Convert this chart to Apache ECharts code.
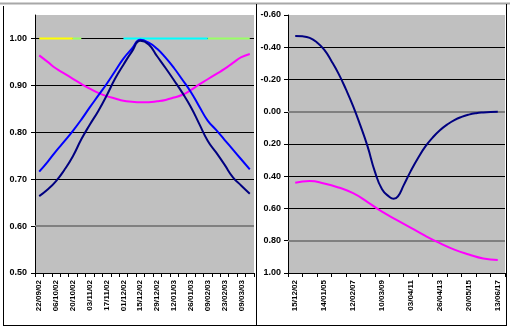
<!DOCTYPE html>
<html>
<head>
<meta charset="utf-8">
<script src="https://cdn.jsdelivr.net/npm/echarts@6/dist/echarts.min.js"></script>
<style>
html,body{margin:0;padding:0;background:#fff;}
#c{width:510px;height:330px;}
</style>
</head>
<body>
<div id="c"></div>
<script>
// ---- Left panel: weekly values, Sept 2002 - March 2003 ----
const weeks = ['22/09/02','29/09/02','06/10/02','13/10/02','20/10/02','27/10/02','03/11/02','10/11/02',
  '17/11/02','24/11/02','01/12/02','08/12/02','15/12/02','22/12/02','29/12/02','05/01/03','12/01/03',
  '19/01/03','26/01/03','02/02/03','09/02/03','16/02/03','23/02/03','02/03/03','09/03/03','16/03/03'];

const navyLeft = [0.664,0.678,0.696,0.720,0.749,0.785,0.816,0.845,0.878,0.914,0.944,0.972,0.995,
  0.987,0.962,0.937,0.911,0.884,0.854,0.818,0.782,0.757,0.731,0.704,0.686,0.669];
const blueLeft = [0.716,0.737,0.760,0.781,0.803,0.827,0.853,0.878,0.903,0.930,0.957,0.978,0.997,
  0.991,0.978,0.959,0.937,0.912,0.886,0.855,0.825,0.805,0.784,0.763,0.742,0.721];
const magentaLeft = [0.964,0.950,0.936,0.925,0.914,0.903,0.893,0.884,0.877,0.872,0.867,0.865,0.864,
  0.864,0.866,0.869,0.874,0.880,0.890,0.902,0.913,0.924,0.935,0.948,0.960,0.967];
const yellowLeft = [1,1,1,1,1,null,null,null,null,null,null,null,null,null,null,null,null,null,null,null,null,null,null,null,null,null];
const limeLeft   = [null,null,null,null,1,1,null,null,null,null,null,null,null,null,null,null,null,null,null,null,1,1,1,1,1,1];
const cyanLeft   = [null,null,null,null,null,null,null,null,null,null,1,1,1,1,1,1,1,1,1,1,1,null,null,null,null,null];

const yTicksLeft = [0.5,0.6,0.7,0.8,0.9,1.0];
const gridBlackLeft = [0.7,0.8,0.9,1.0];
const gridGreyLeft = [0.6];

// ---- Right panel: long-run values, 2002 - 2017 ----
// One tick label per slot; every other one is printed.
const years = ['15/12/02','30/12/03','14/01/05','29/01/06','12/02/07','26/02/08','10/03/09','22/03/10',
  '03/04/11','14/04/12','26/04/13','08/05/14','20/05/15','01/06/16','13/06/17'];
const yearLabelSlots = [0,2,4,6,8,10,12,14];
const yearTickSlots = [-0.5,0.5,1.5,2.5,3.5,4.5,5.5,6.5,7.5,8.5,9.5,10.5,11.5,12.5,13.5,14.5];

// navy series sampled more finely around its trough
const navyRightPos = [0,0.5,1,1.5,2,2.5,3,3.5,4,4.5,5,5.5,6,6.5,6.8,7.1,7.5,8,8.5,9,9.5,10,10.5,11,11.5,12,12.5,13,13.5,14];
const navyRight = [-0.470,-0.468,-0.458,-0.430,-0.385,-0.315,-0.235,-0.140,-0.035,0.085,0.215,0.370,0.480,0.527,
  0.540,0.525,0.455,0.365,0.285,0.215,0.160,0.115,0.080,0.052,0.032,0.018,0.009,0.004,0.001,0.000];
const magentaRightPos = [0,1,2,3,4,5,6,7,8,9,10,11,12,13,14];
const magentaRight = [0.44,0.43,0.445,0.47,0.505,0.56,0.62,0.67,0.72,0.77,0.815,0.855,0.885,0.91,0.92];

const yTicksRight = [-0.6,-0.4,-0.2,0.0,0.2,0.4,0.6,0.8,1.0];
const gridBlackRight = [-0.4,-0.2,0.2,0.4,0.6];
const gridGreyRight = [0.0,0.8];

const labelFont = {fontFamily:'"Liberation Sans", Arial, sans-serif', fontSize:9, fontWeight:'bold', color:'#000'};
const dateFont = {fontFamily:'"Liberation Sans Narrow", "Arial Narrow", "Liberation Sans", sans-serif', fontSize:8, fontWeight:'bold', color:'#000'};

function gridMarks(black, grey) {
  return {
    silent: true, symbol: 'none', label: {show: false}, animation: false, z: 1,
    data: black.map(v => ({yAxis: v, lineStyle: {color: '#000', width: 1, type: 'solid'}}))
      .concat(grey.map(v => ({yAxis: v, lineStyle: {color: '#808080', width: 2, type: 'solid'}})))
  };
}

function curve(name, data, color, xi, z, width) {
  return {
    name: name, type: 'line', xAxisIndex: xi, yAxisIndex: xi, data: data,
    smooth: true, showSymbol: false, symbol: 'none', z: z,
    lineStyle: {color: color, width: width || 2}, connectNulls: false
  };
}

const zip = (xs, ys) => xs.map((x, i) => [x, ys[i]]);

const chart = echarts.init(document.getElementById('c'), null, {renderer: 'canvas'});

chart.setOption({
  animation: false,
  backgroundColor: '#fff',
  grid: [
    {left: 35, top: 15, width: 219, height: 258, show: true, backgroundColor: '#C0C0C0', borderWidth: 0},
    {left: 288, top: 15, width: 217, height: 258, show: true, backgroundColor: '#C0C0C0', borderWidth: 0}
  ],
  xAxis: [
    {
      type: 'category', gridIndex: 0, data: weeks, boundaryGap: true,
      axisLine: {lineStyle: {color: '#000', width: 1}},
      axisTick: {show: true, interval: 0, length: 4, lineStyle: {color: '#000'}},
      axisLabel: Object.assign({interval: 1, rotate: 90, margin: 7}, dateFont),
      splitLine: {show: false}
    },
    {
      type: 'value', gridIndex: 1, min: -0.5, max: 14.5,
      axisLine: {show: true, onZero: false, lineStyle: {color: '#000', width: 1}},
      axisTick: {show: true, length: 4, customValues: yearTickSlots, lineStyle: {color: '#000'}},
      axisLabel: Object.assign({rotate: 90, margin: 7, customValues: yearLabelSlots,
        formatter: v => years[Math.round(v)] || ''}, dateFont),
      splitLine: {show: false}
    }
  ],
  yAxis: [
    {
      type: 'value', gridIndex: 0, min: 0.5, max: 1.05,
      axisLine: {show: true, lineStyle: {color: '#000', width: 1}},
      axisTick: {show: true, length: 4, customValues: yTicksLeft, lineStyle: {color: '#000'}},
      axisLabel: Object.assign({margin: 8, customValues: yTicksLeft, formatter: v => v.toFixed(2)}, labelFont),
      splitLine: {show: false}
    },
    {
      type: 'value', gridIndex: 1, min: -0.6, max: 1.0, interval: 0.2, inverse: true,
      axisLine: {show: true, onZero: false, lineStyle: {color: '#000', width: 1}},
      axisTick: {show: true, length: 4, customValues: yTicksRight, lineStyle: {color: '#000'}},
      axisLabel: Object.assign({margin: 7, customValues: yTicksRight, formatter: v => v.toFixed(2)}, labelFont),
      splitLine: {show: false}
    }
  ],
  series: [
    {type: 'line', xAxisIndex: 0, yAxisIndex: 0, data: weeks.map(() => null), z: 1, symbol: 'none',
      markLine: gridMarks(gridBlackLeft, gridGreyLeft)},
    {type: 'line', xAxisIndex: 1, yAxisIndex: 1, data: [], z: 1, symbol: 'none',
      markLine: gridMarks(gridBlackRight, gridGreyRight)},
    curve('yellow', yellowLeft, '#FFFF00', 0, 2, 2),
    curve('lime', limeLeft, '#99FF66', 0, 2, 2),
    curve('cyan', cyanLeft, '#00FFFF', 0, 2, 2),
    curve('magenta', magentaLeft, '#FF00FF', 0, 3),
    curve('blue', blueLeft, '#0000FF', 0, 4),
    curve('navy', navyLeft, '#000080', 0, 5),
    curve('navy2', zip(navyRightPos, navyRight), '#000080', 1, 5),
    curve('magenta2', zip(magentaRightPos, magentaRight), '#FF00FF', 1, 4)
  ],
  graphic: [
    {type: 'line', shape: {x1: 0, y1: 3.5, x2: 510, y2: 3.5}, style: {stroke: '#A8A8A8', lineWidth: 2}, silent: true},
    {type: 'line', shape: {x1: 3.5, y1: 6, x2: 3.5, y2: 326}, style: {stroke: '#000', lineWidth: 1}, silent: true},
    {type: 'line', shape: {x1: 3, y1: 325.5, x2: 507, y2: 325.5}, style: {stroke: '#000', lineWidth: 1}, silent: true},
    {type: 'line', shape: {x1: 256.5, y1: 4, x2: 256.5, y2: 326}, style: {stroke: '#000', lineWidth: 1}, silent: true},
    {type: 'line', shape: {x1: 506.5, y1: 4, x2: 506.5, y2: 326}, style: {stroke: '#000', lineWidth: 1}, silent: true}
  ]
});
</script>
</body>
</html>
